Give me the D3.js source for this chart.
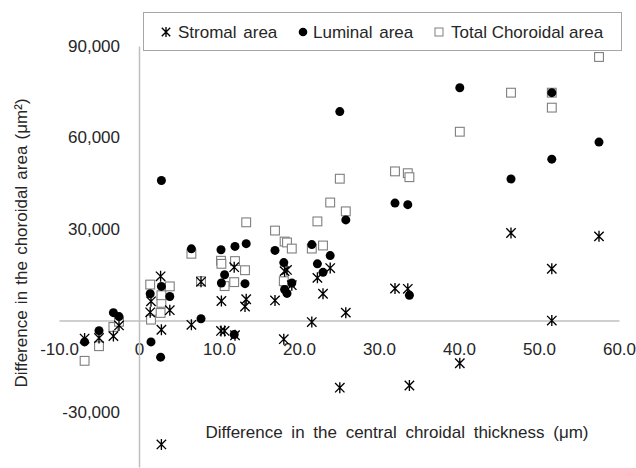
<!DOCTYPE html>
<html>
<head>
<meta charset="utf-8">
<script src="https://cdn.jsdelivr.net/npm/d3@7"></script>
<style>
  html, body { margin: 0; padding: 0; background: #fff; }
  svg { display: block; font-family: "Liberation Sans", Arial, sans-serif; }
</style>
</head>
<body>
<svg id="chart" width="636" height="468"></svg>
<script>
// ---- data ----
const thickness = [-6.8, -5.0, -3.2, -2.5, 1.4, 1.5, 2.7, 2.8, 2.8, 3.85, 6.55, 7.75,
  10.25, 10.3, 10.7, 12.0, 11.9, 13.4, 13.25, 17.0, 18.1, 18.2, 18.5, 19.1,
  21.6, 22.3, 23.0, 23.9, 25.1, 25.85, 32.0, 33.6, 33.8, 40.1, 46.5, 51.6, 51.6, 57.5];
const stromal = [-5900, -5700, -5100, -1600, 2700, 6300, 14500, -40600, -3000, 3400, -1400, 12700,
  -3400, 6400, -3400, -4800, 17500, 7000, 4600, 6600, -6100, 16200, 16600, 11600,
  -500, 14000, 8800, 17200, -22000, 2600, 10500, 10400, -21300, -14000, 28700, 0, 17000, 27600];
const luminal = [-7000, -3300, 2600, 1300, 8800, -7000, -12000, 45900, 11200, 7900, 23500, 600,
  23200, 12300, 15000, 24300, -4600, 25200, 12100, 23000, 19000, 10200, 8900, 12300,
  24900, 18600, 15800, 21300, 68500, 33000, 38500, 38000, 8300, 76300, 46400, 74700, 52900, 58500];
const total = [-13200, -8400, -2100, -400, 11800, 300, 2500, 5800, 8300, 11200, 21900, 12900,
  19600, 18600, 11300, 19500, 12600, 32200, 16500, 29500, 12900, 25900, 25600, 23600,
  23600, 32500, 24600, 38700, 46500, 35800, 48900, 48300, 47000, 61900, 74700, 74700, 69800, 86400];
const xTicks = [-10, 0, 10, 20, 30, 40, 50, 60];
const yTicks = [-30000, 30000, 60000, 90000];
const seriesNames = ["Stromal area", "Luminal area", "Total Choroidal area"];
const xTitle = "Difference in the central chroidal thickness (\u03bcm)";
const yTitle = "Difference in the choroidal area (\u03bcm\u00b2)";

// ---- chart ----
const svg = d3.select("#chart");
const textColor = "#262626";
const axisColor = "#bfbfbf";
const hyphen = s => s.replace(/\u2212/g, "-");

const x = d3.scaleLinear().domain([-10, 60]).range([59, 619]);
const y = d3.scaleLinear().domain([-48000, 90000]).range([467, 46]);

// x axis through y=0
const gx = svg.append("g")
  .attr("transform", `translate(0,${y(0)})`)
  .call(d3.axisBottom(x).tickValues(xTicks)
    .tickFormat(d => d === 0 ? "0" : hyphen(d3.format(".1f")(d)))
    .tickSize(0).tickSizeOuter(0).tickPadding(22.5));
gx.select(".domain").attr("stroke", axisColor).attr("stroke-width", 1.5);
gx.selectAll("text").attr("font-size", 17).attr("fill", textColor)
  .attr("font-family", "Liberation Sans, Arial, sans-serif");

// y axis through x=0
const gy = svg.append("g")
  .attr("transform", `translate(${x(0)},0)`)
  .call(d3.axisLeft(y).tickValues(yTicks).tickFormat(d => hyphen(d3.format(",")(d)))
    .tickSize(0).tickSizeOuter(0).tickPadding(19));
gy.select(".domain").attr("stroke", axisColor).attr("stroke-width", 1.5);
gy.selectAll("text").attr("font-size", 17).attr("fill", textColor)
  .attr("font-family", "Liberation Sans, Arial, sans-serif");

// titles
svg.append("text")
  .attr("x", 397).attr("y", 438)
  .attr("text-anchor", "middle")
  .attr("font-size", 17).attr("fill", textColor)
  .attr("word-spacing", 4)
  .text(xTitle);
svg.append("text")
  .attr("transform", "translate(27,243) rotate(-90)")
  .attr("text-anchor", "middle")
  .attr("font-size", 17).attr("fill", textColor)
  .attr("word-spacing", 1.5)
  .text(yTitle);

// marker helpers
const starPath = (hw, hh) => `M${-hw},${-hw}L${hw},${hw}M${-hw},${hw}L${hw},${-hw}M0,${-hh}L0,${hh}`;
const idx = d3.range(thickness.length);

// total (squares)
svg.append("g").selectAll("rect").data(idx).join("rect")
  .attr("x", i => x(thickness[i]) - 4.4)
  .attr("y", i => y(total[i]) - 4.4)
  .attr("width", 8.8).attr("height", 8.8)
  .attr("fill", "#fff").attr("stroke", "#7f7f7f").attr("stroke-width", 1.1);

// luminal (filled circles)
svg.append("g").selectAll("circle").data(idx).join("circle")
  .attr("cx", i => x(thickness[i]))
  .attr("cy", i => y(luminal[i]))
  .attr("r", 4.5)
  .attr("fill", "#000");

// stromal (stars)
svg.append("g").selectAll("path").data(idx).join("path")
  .attr("transform", i => `translate(${x(thickness[i])},${y(stromal[i])})`)
  .attr("d", starPath(4.7, 5.5))
  .attr("fill", "none").attr("stroke", "#000").attr("stroke-width", 1.35);

// legend
const lg = svg.append("g");
lg.append("rect").attr("x", 143.5).attr("y", 12.5).attr("width", 478).attr("height", 38)
  .attr("fill", "#fff").attr("stroke", "#a6a6a6").attr("stroke-width", 1);
const ly = 32;
lg.append("path").attr("transform", `translate(166,${ly})`).attr("d", starPath(4.2, 5))
  .attr("fill", "none").attr("stroke", "#000").attr("stroke-width", 1.35);
lg.append("text").attr("x", 178).attr("y", ly + 6).attr("font-size", 17).attr("fill", textColor)
  .attr("word-spacing", 2).text(seriesNames[0]);
lg.append("circle").attr("cx", 303).attr("cy", ly).attr("r", 4.3).attr("fill", "#000");
lg.append("text").attr("x", 313).attr("y", ly + 6).attr("font-size", 17).attr("fill", textColor)
  .attr("word-spacing", 2).text(seriesNames[1]);
lg.append("rect").attr("x", 435).attr("y", ly - 4).attr("width", 8).attr("height", 8)
  .attr("fill", "#fff").attr("stroke", "#7f7f7f").attr("stroke-width", 1);
lg.append("text").attr("x", 451).attr("y", ly + 6).attr("font-size", 17).attr("fill", textColor)
  .text(seriesNames[2]);
</script>
</body>
</html>
